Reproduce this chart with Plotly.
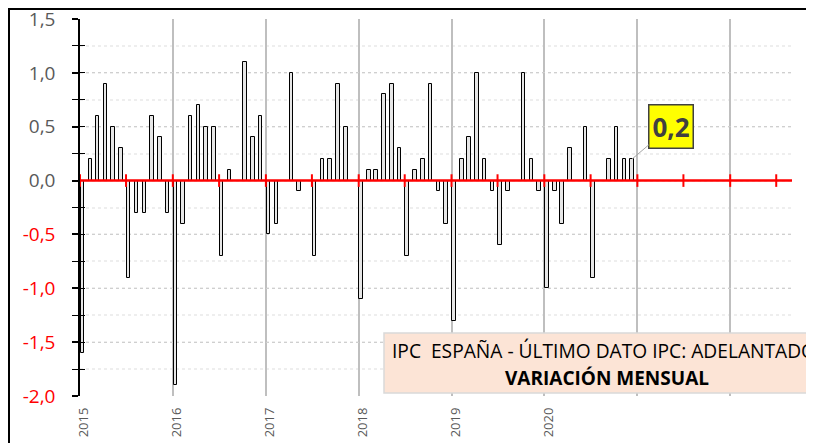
import pandas as pd
import plotly.graph_objects as go

# Monthly CPI change, Spain (%), Jan 2015 - Dec 2020
MONTHS = pd.date_range('2015-01-01', '2020-12-01', freq='MS')
VAR_2015 = [-1.6, 0.2, 0.6, 0.9, 0.5, 0.3, -0.9, -0.3, -0.3, 0.6, 0.4, -0.3]
VAR_2016 = [-1.9, -0.4, 0.6, 0.7, 0.5, 0.5, -0.7, 0.1, 0.0, 1.1, 0.4, 0.6]
VAR_2017 = [-0.5, -0.4, 0.0, 1.0, -0.1, 0.0, -0.7, 0.2, 0.2, 0.9, 0.5, 0.0]
VAR_2018 = [-1.1, 0.1, 0.1, 0.8, 0.9, 0.3, -0.7, 0.1, 0.2, 0.9, -0.1, -0.4]
VAR_2019 = [-1.3, 0.2, 0.4, 1.0, 0.2, -0.1, -0.6, -0.1, 0.0, 1.0, 0.2, -0.1]
VAR_2020 = [-1.0, -0.1, -0.4, 0.3, 0.0, 0.5, -0.9, 0.0, 0.2, 0.5, 0.2, 0.2]
VALUES = VAR_2015 + VAR_2016 + VAR_2017 + VAR_2018 + VAR_2019 + VAR_2020

YEAR_TICKS = pd.date_range('2015-01-01', '2022-01-01', freq='YS')
YEAR_LABELS = ['2015', '2016', '2017', '2018', '2019', '2020', '', '']
HALF_YEARS = pd.date_range('2015-01-01', '2022-07-01', freq='6MS')
Y_TICKS = [1.5, 1.0, 0.5, 0.0, -0.5, -1.0, -1.5, -2.0]

FONT = 'Open Sans, sans-serif'
GREY_TXT = '#595959'

# the page body adds an 8px offset, so the figure is sized to fit the window
OFF = 8
W, H = 814 - OFF, 443 - OFF
L, R, T, B = 72, 22, 11, 47
PW, PH = W - L - R, H - T - B


def px_x(x):
    # screen pixel -> paper fraction
    return (x - OFF - L) / PW


def px_y(y):
    return (H - B - (y - OFF)) / PH


def fmt(v):
    s = f'{v:.1f}'.replace('.', ',')
    if v < 0:
        return f'<span style="color:#ff0000">{s}</span>'
    return s


fig = go.Figure()

fig.add_trace(go.Bar(
    x=MONTHS + pd.Timedelta(days=10), y=VALUES,
    width=14 * 86400000,
    marker=dict(color='#e6e6e6', line=dict(color='#000000', width=1)),
    showlegend=False,
))

# red tick marks on the zero axis
fig.add_trace(go.Scatter(
    x=HALF_YEARS, y=[0] * len(HALF_YEARS), yaxis='y2',
    mode='markers', cliponaxis=False,
    marker=dict(symbol='line-ns', size=9, line=dict(color='#ff0000', width=2)),
    showlegend=False, hoverinfo='skip',
))

fig.update_layout(
    width=W, height=H,
    margin=dict(l=L, r=R, t=T, b=B, autoexpand=False),
    paper_bgcolor='#ffffff', plot_bgcolor='#ffffff',
    font=dict(family=FONT, color=GREY_TXT),
    bargap=0,
    xaxis=dict(
        type='date', range=['2015-01-01', '2022-09-01'],
        tickvals=YEAR_TICKS, ticktext=YEAR_LABELS,
        tickangle=-90, tickfont=dict(size=13, color=GREY_TXT),
        ticklabelshift=4, ticklabelstandoff=8, ticks='',
        showgrid=True, gridcolor='#bfbfbf', gridwidth=1.5,
        showline=False, zeroline=False, automargin=False,
    ),
    yaxis=dict(
        range=[-2.0, 1.5],
        tickvals=Y_TICKS, ticktext=[fmt(v) for v in Y_TICKS],
        tickfont=dict(size=19, color=GREY_TXT),
        ticks='outside', ticklen=6, tickwidth=1.5, tickcolor='#000000',
        ticklabelstandoff=13, ticklabeloverflow='allow',
        showgrid=True, gridcolor='#cfcfcf', gridwidth=1, griddash='dot',
        minor=dict(dtick=0.25, ticks='outside', ticklen=6, tickwidth=1, tickcolor='#000000',
                   showgrid=True, gridcolor='#eeeeee', gridwidth=1.5),
        showline=True, linecolor='#000000', linewidth=1.5,
        zeroline=False, automargin=False,
    ),
    yaxis2=dict(
        range=[-2.0, 1.5], overlaying='y', side='left', anchor='x',
        dtick=0.25, ticks='inside', ticklen=5, tickwidth=1, tickcolor='#000000',
        showticklabels=False, showgrid=False, zeroline=False, showline=False,
        automargin=False,
    ),
    shapes=[
        # red horizontal axis at zero
        dict(type='line', xref='x domain', yref='y', x0=0, x1=1, y0=0, y1=0,
             line=dict(color='#ff0000', width=2.5), layer='above'),
        # chart outer border (left and top edges)
        dict(type='line', xref='paper', yref='paper',
             x0=px_x(9), x1=px_x(9), y0=px_y(9), y1=px_y(460),
             line=dict(color='#000000', width=2)),
        dict(type='line', xref='paper', yref='paper',
             x0=px_x(8), x1=px_x(830), y0=px_y(9), y1=px_y(9),
             line=dict(color='#000000', width=2)),
        # caption box
        dict(type='rect', xref='paper', yref='paper',
             x0=px_x(384), x1=px_x(840), y0=px_y(393), y1=px_y(333),
             fillcolor='#fce4d6', line=dict(color='#d9d9d9', width=1.5), layer='above'),
    ],
    annotations=[
        dict(x=MONTHS[-1] + pd.Timedelta(days=10), y=VALUES[-1], xref='x', yref='y',
             text='<b>' + fmt(VALUES[-1]) + '</b>', showarrow=True, arrowhead=0,
             arrowcolor='#a6a6a6', arrowwidth=1, ax=39, ay=-33,
             font=dict(size=26, color='#404040', family=FONT),
             bgcolor='#ffff00', bordercolor='#404040', borderwidth=1.5, borderpad=3),
        dict(x=px_x(390), y=px_y(350), xref='paper', yref='paper', showarrow=False,
             text='IPC  ESPAÑA - ÚLTIMO DATO IPC: ADELANTADO',
             font=dict(size=19.2, color='#000000', family=FONT), xanchor='left', yanchor='middle'),
        dict(x=px_x(607), y=px_y(378), xref='paper', yref='paper', showarrow=False,
             text='<b>VARIACIÓN MENSUAL</b>',
             font=dict(size=19, color='#000000', family=FONT), xanchor='center', yanchor='middle'),
    ],
)

fig.write_html("out.html")
